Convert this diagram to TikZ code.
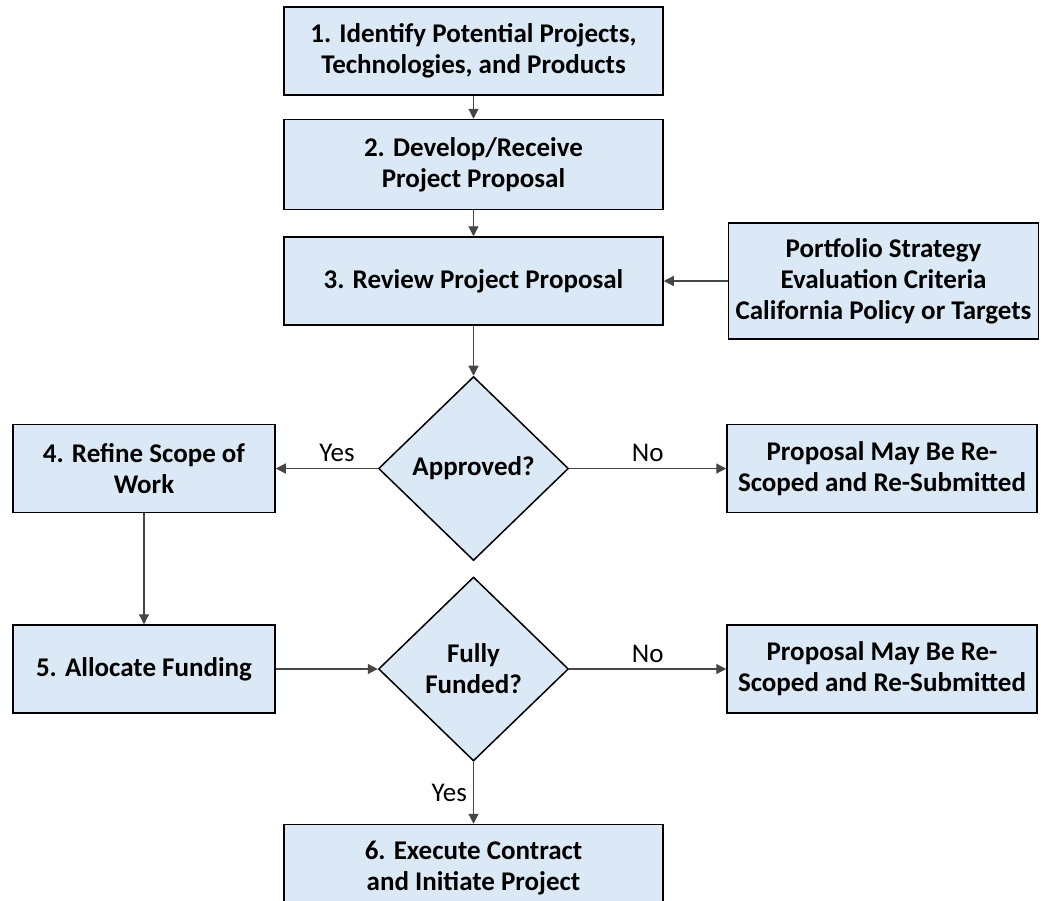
\documentclass[tikz,border=0pt]{standalone}
\usepackage{fontspec}
\setmainfont{Carlito}
\usepackage{xcolor}
\usepackage{tikz}
\usetikzlibrary{arrows.meta,positioning,shapes.geometric}

\definecolor{boxblue}{RGB}{218,233,245}
\definecolor{linegray}{RGB}{70,70,70}

\begin{document}
\begin{tikzpicture}[
  node distance=24pt and 100pt,
  box/.style={draw, line width=1.5pt, align=center, inner sep=1pt,
    minimum width=379pt, minimum height=88pt, fill=boxblue,
    font=\bfseries\fontsize{27}{31}\selectfont},
  sidebox/.style={box, minimum width=262pt},
  outbox/.style={box, minimum width=310pt},
  decide/.style={draw, diamond, line width=1.5pt, align=center, inner sep=0pt,
    minimum width=190pt, minimum height=184pt, fill=boxblue,
    font=\bfseries\fontsize{27}{31}\selectfont},
  arr/.style={-{Triangle[length=10pt,width=10pt]}, line width=1.2pt, draw=linegray},
  lbl/.style={font=\fontsize{27}{30}\selectfont, inner sep=6pt}
]
\clip (0,0) rectangle (1041pt,-900pt);
\node[box] (identify) at (473.5pt,-51pt) {1. Identify Potential Projects,\\Technologies, and Products};
\node[box, below=23pt of identify, minimum height=90pt] (develop) {2. Develop/Receive\\Project Proposal};
\node[box, below=26pt of develop] (review) {3. Review Project Proposal};
\node[outbox, right=64pt of review, minimum height=116pt] (criteria) {Portfolio Strategy\\Evaluation Criteria\\California Policy or Targets};
\node[decide, below=50pt of review] (approved) {Approved?};
\node[sidebox, left=102pt of approved] (refine) {4. Refine Scope of\\Work};
\node[outbox, right=157pt of approved] (rescope) {Proposal May Be Re-\\Scoped and Re-Submitted};
\node[sidebox, below=111pt of refine] (allocate) {5. Allocate Funding};
\node[decide, right=102pt of allocate] (funded) {Fully\\Funded?};
\node[outbox, right=157pt of funded] (rescopeb) {Proposal May Be Re-\\Scoped and Re-Submitted};
\node[box, below=62pt of funded] (execute) {6. Execute Contract\\and Initiate Project};

\draw[arr] (identify) -- (develop);
\draw[arr] (develop) -- (review);
\draw[arr] (criteria) -- (review);
\draw[arr] (review) -- (approved);
\draw[arr] (approved) -- node[lbl, above, pos=0.4] {Yes} (refine);
\draw[arr] (approved) -- node[lbl, above] {No} (rescope);
\draw[arr] (refine) -- (allocate);
\draw[arr] (allocate) -- (funded);
\draw[arr] (funded) -- node[lbl, above] {No} (rescopeb);
\draw[arr] (funded) -- node[lbl, left] {Yes} (execute);
\end{tikzpicture}
\end{document}
